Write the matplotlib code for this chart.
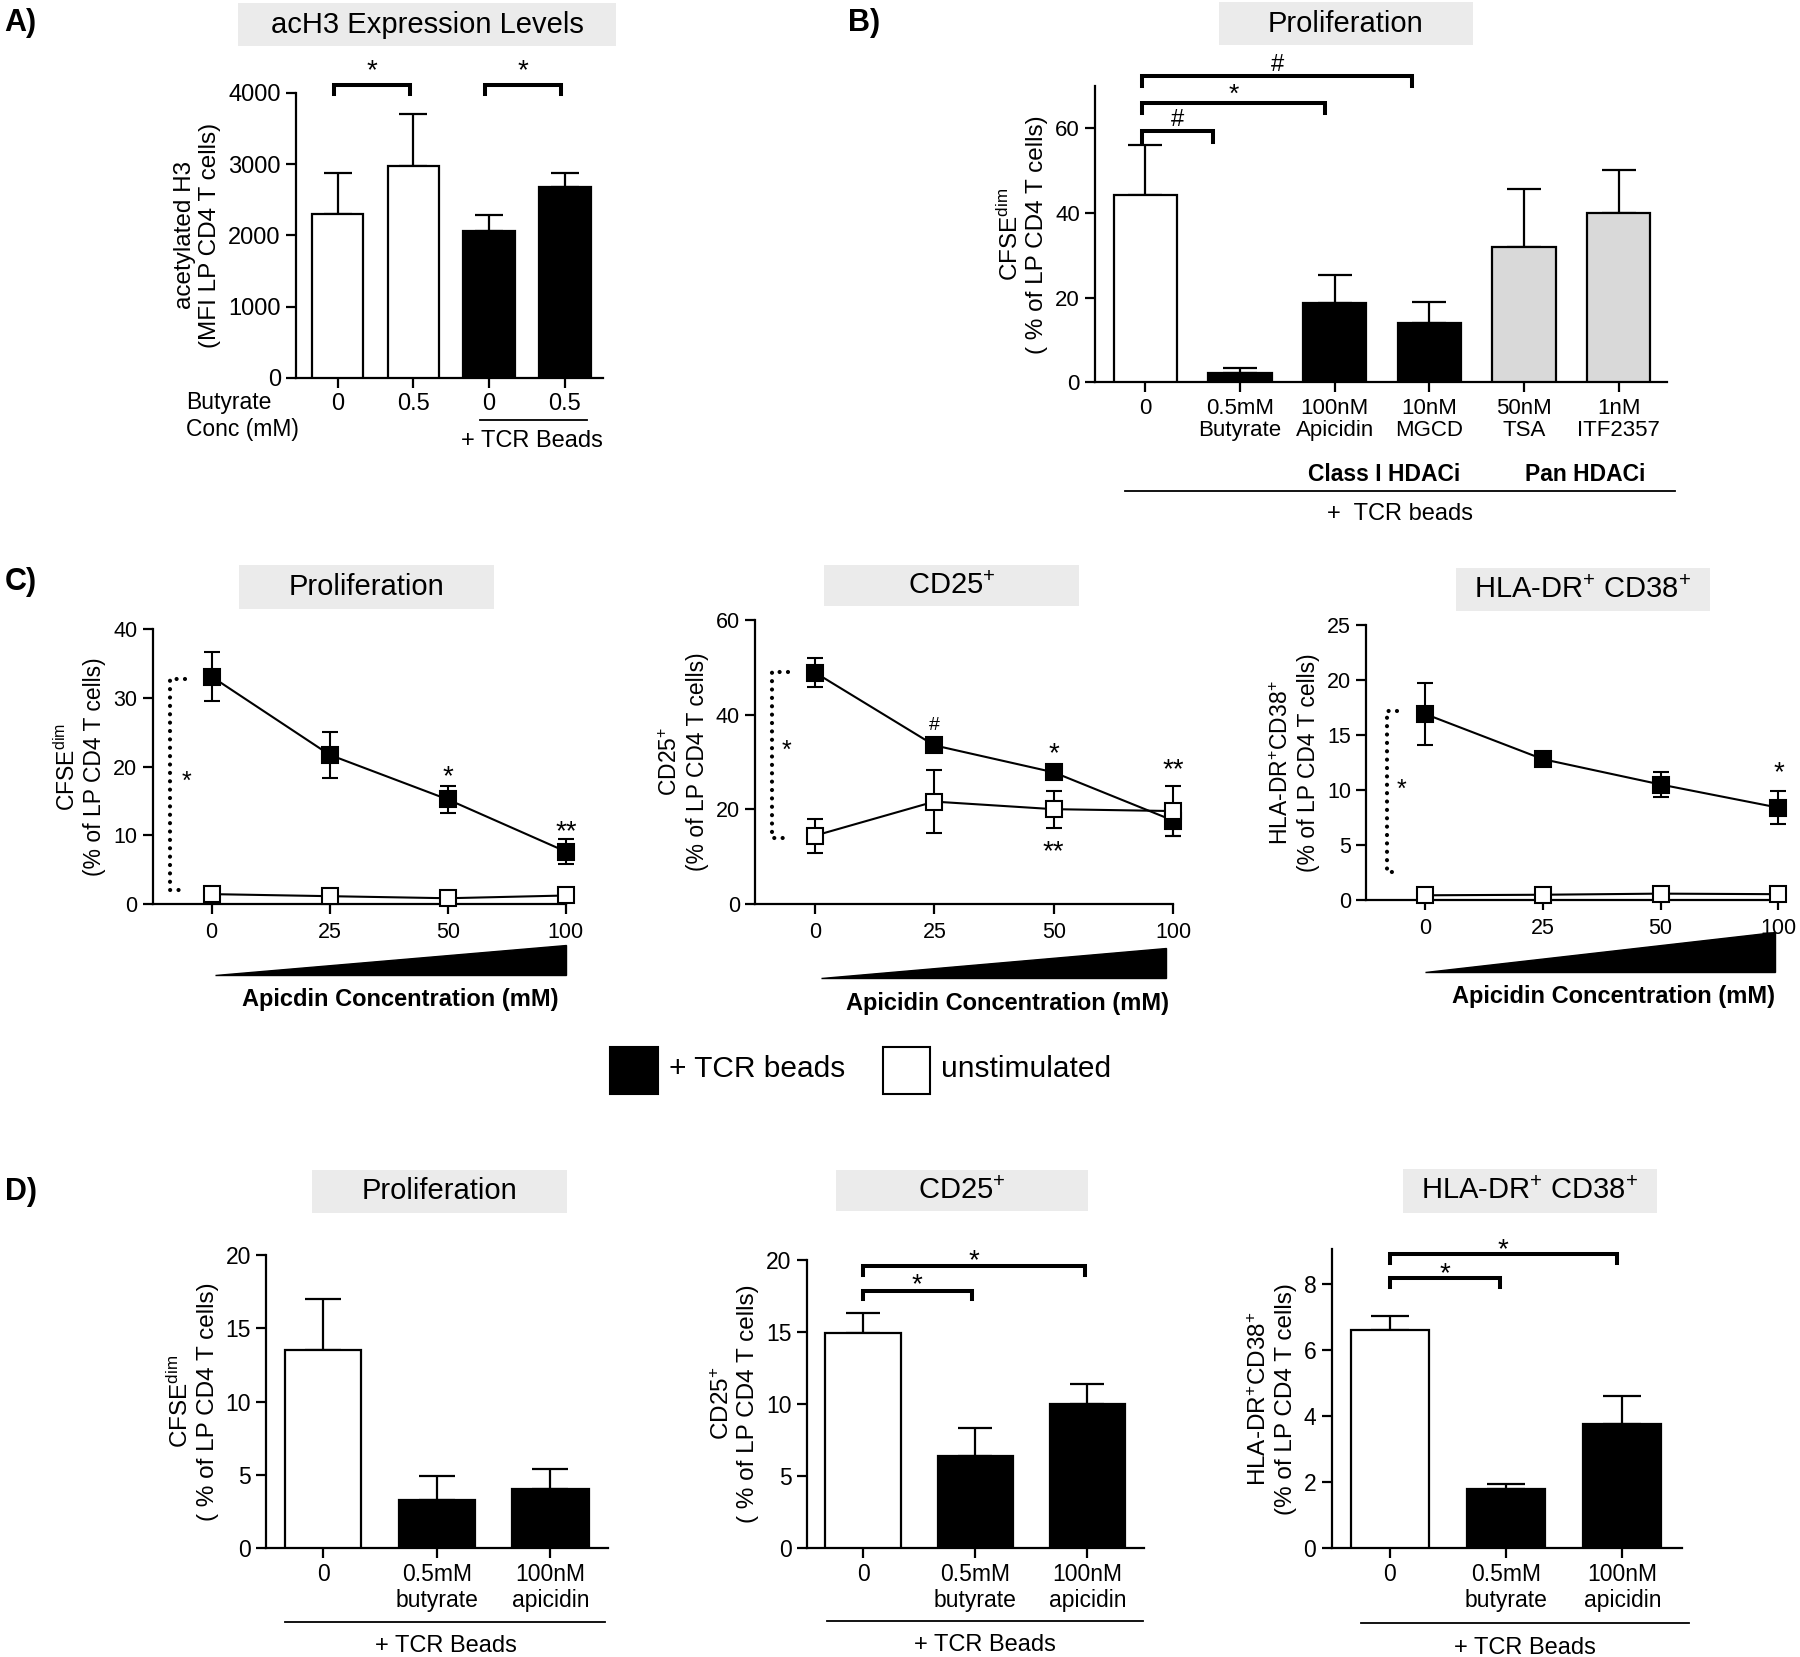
import numpy as np
import matplotlib
matplotlib.use("Agg")
import matplotlib.pyplot as plt
import matplotlib.transforms as mtransforms
from matplotlib.patches import Rectangle, Polygon

plt.rcParams['font.family'] = ['Liberation Sans', 'DejaVu Sans']
plt.rcParams['mathtext.fontset'] = 'custom'
plt.rcParams['mathtext.rm'] = 'Liberation Sans'
plt.rcParams['mathtext.it'] = 'Liberation Sans:italic'
plt.rcParams['mathtext.bf'] = 'Liberation Sans:bold'
plt.rcParams['axes.linewidth'] = 1.5

# ---------------- data ----------------
# Panel A
a_labels = ['0', '0.5', '0', '0.5']
a_means = [2300, 2980, 2060, 2680]
a_errs = [580, 730, 220, 190]
a_colors = ['white', 'white', 'black', 'black']

# Panel B
b_labels = ['0', '0.5mM\nButyrate', '100nM\nApicidin', '10nM\nMGCD', '50nM\nTSA', '1nM\nITF2357']
b_means = [44.3, 2.2, 18.8, 14.0, 32.0, 40.0]
b_errs = [11.8, 1.2, 6.7, 5.0, 13.8, 10.1]
b_colors = ['white', 'black', 'black', 'black', '#d9d9d9', '#d9d9d9']

# Panel C (Apicidin dose response)
c_conc = ['0', '25', '50', '100']
c1_tcr = [33.1, 21.7, 15.2, 7.6]
c1_tcr_err = [3.6, 3.3, 2.0, 1.8]
c1_uns = [1.4, 1.1, 0.8, 1.2]
c1_uns_err = [0, 0, 0, 0]
c2_tcr = [48.9, 33.5, 27.8, 17.6]
c2_tcr_err = [3.0, 0.6, 0.6, 3.2]
c2_uns = [14.4, 21.6, 20.0, 19.6]
c2_uns_err = [3.6, 6.6, 3.9, 5.2]
c3_tcr = [16.9, 12.8, 10.5, 8.4]
c3_tcr_err = [2.8, 0.4, 1.1, 1.5]
c3_uns = [0.45, 0.5, 0.6, 0.55]
c3_uns_err = [0, 0, 0, 0]

# Panel D
d_labels = ['0', '0.5mM\nbutyrate', '100nM\napicidin']
d_colors = ['white', 'black', 'black']
d1_means = [13.5, 3.3, 4.0]
d1_errs = [3.5, 1.6, 1.4]
d2_means = [14.9, 6.4, 10.0]
d2_errs = [1.4, 1.9, 1.4]
d3_means = [6.6, 1.8, 3.77]
d3_errs = [0.42, 0.15, 0.85]

# ---------------- figure ----------------
fig = plt.figure(figsize=(18, 16.57), dpi=100)
W, H = 1568.0, 1443.0


def fig_box(x0, y0, x1, y1, **kw):
    r = Rectangle((x0 / W, 1 - y1 / H), (x1 - x0) / W, (y1 - y0) / H,
                  transform=fig.transFigure, **kw)
    fig.add_artist(r)


def title_box(x0, y0, x1, y1, text, fs=21):
    fig_box(x0, y0, x1, y1, facecolor='#ebebeb', edgecolor='none')
    fig.text((x0 + x1) / 2 / W, 1 - (y0 + y1) / 2 / H, text, ha='center',
             va='center', fontsize=fs)


def style(ax, fs):
    ax.spines['top'].set_visible(False)
    ax.spines['right'].set_visible(False)
    ax.spines['left'].set_linewidth(1.6)
    ax.spines['bottom'].set_linewidth(1.6)
    ax.tick_params(axis='both', direction='out', length=7, width=1.6,
                   labelsize=fs, pad=4)


def bars(ax, means, errs, colors, width, capsize):
    x = np.arange(len(means))
    ax.errorbar(x, means, yerr=[np.zeros(len(errs)), errs], fmt='none',
                ecolor='black', elinewidth=1.6, capsize=capsize, capthick=1.6,
                zorder=2)
    ax.bar(x, means, width=width, color=colors, edgecolor='black',
           linewidth=1.6, zorder=3)
    return x


def bracket(ax, x0, x1, y, drop, label, ly, fs=20):
    ax.plot([x0, x0, x1, x1], [y - drop, y, y, y - drop], color='black',
            lw=2.9, clip_on=False, solid_joinstyle='miter', zorder=5)
    ax.text((x0 + x1) / 2, ly, label, ha='center', va='center', fontsize=fs)


def blended(ax):
    return mtransforms.blended_transform_factory(ax.transData, ax.transAxes)


# ---------- Panel A ----------
axA = fig.add_axes([0.1645, 0.772, 0.1703, 0.1719])
style(axA, 17)
xa = bars(axA, a_means, a_errs, a_colors, 0.68, 10)
axA.set_xlim(-0.55, 3.5)
axA.set_ylim(0, 4000)
axA.set_yticks([0, 1000, 2000, 3000, 4000])
axA.set_xticks(xa)
axA.set_xticklabels(a_labels)
axA.set_ylabel('acetylated H3\n(MFI LP CD4 T cells)', fontsize=17.5, labelpad=5)
bracket(axA, -0.05, 0.95, 4110, 130, '*', 4300)
bracket(axA, 1.95, 2.95, 4110, 130, '*', 4300)
tA = blended(axA)
axA.text(-0.36, -0.088, 'Butyrate', transform=axA.transAxes, ha='left', va='center', fontsize=16.5)
axA.text(-0.36, -0.18, 'Conc (mM)', transform=axA.transAxes, ha='left', va='center', fontsize=16.5)
axA.plot([1.88, 3.29], [-0.149, -0.149], transform=tA, color='black', lw=1.3, clip_on=False)
axA.text(2.57, -0.222, '+ TCR Beads', transform=tA, ha='center', va='center', fontsize=17)
title_box(207, 3, 537, 40, 'acH3 Expression Levels')

# ---------- Panel B ----------
axB = fig.add_axes([0.6084, 0.7692, 0.3176, 0.1788])
style(axB, 16)
xb = bars(axB, b_means, b_errs, b_colors, 0.67, 12)
axB.set_xlim(-0.53, 5.51)
axB.set_ylim(0, 70)
axB.set_yticks([0, 20, 40, 60])
axB.set_xticks(xb)
axB.set_xticklabels(b_labels, linespacing=1.1)
axB.set_ylabel('CFSE$^{\\mathrm{dim}}$\n( % of LP CD4 T cells)', fontsize=17.5, labelpad=5)
bracket(axB, -0.03, 0.72, 59.5, 2.6, '#', 62.0, fs=17)
bracket(axB, -0.03, 1.90, 66.0, 2.4, '*', 68.0, fs=19)
bracket(axB, -0.03, 2.82, 72.5, 2.4, '#', 75.0, fs=17)
tB = blended(axB)
axB.text(2.52, -0.31, 'Class I HDACi', transform=tB, ha='center', va='center', fontsize=16.5, fontweight='bold')
axB.text(4.65, -0.31, 'Pan HDACi', transform=tB, ha='center', va='center', fontsize=16.5, fontweight='bold')
axB.plot([-0.21, 5.6], [-0.366, -0.366], transform=tB, color='black', lw=1.3, clip_on=False)
axB.text(2.69, -0.445, '+  TCR beads', transform=tB, ha='center', va='center', fontsize=17)
title_box(1062, 2, 1283, 39, 'Proliferation')


# ---------- Panel C ----------
def line_panel(ax, tcr, tcr_err, uns, uns_err, ylim, yticks, ylabel):
    style(ax, 15.5)
    x = np.arange(len(c_conc))
    for y, e, mfc, z in [(tcr, tcr_err, 'black', 4), (uns, uns_err, 'white', 6)]:
        if np.any(np.array(e) > 0):
            cont = ax.errorbar(x, y, yerr=e, fmt='-s', color='black', mfc=mfc,
                               mec='black', mew=1.5, ms=11.5, lw=1.5,
                               elinewidth=1.5, capsize=5.5, capthick=1.5,
                               zorder=z)
            for art in cont.get_children():
                art.set_clip_on(False)
        else:
            ax.plot(x, y, '-s', color='black', mfc=mfc, mec='black', mew=1.5,
                    ms=11.5, lw=1.5, zorder=z, clip_on=False)
    ax.set_xlim(-0.5, 3)
    ax.set_ylim(*ylim)
    ax.set_yticks(yticks)
    ax.set_xticks(x)
    ax.set_xticklabels(c_conc)
    ax.tick_params(axis='x', pad=6)
    ax.set_ylabel(ylabel, fontsize=16.5, labelpad=5)
    return x


def dotted(ax, xv, xs, y0, y1, ys, star_x):
    ax.plot([xs, xv, xv, xs], [y1, y1, y0, y0], color='black', lw=3.0,
            ls=(0, (0.01, 2.0)), dash_capstyle='round', clip_on=False)
    ax.text(star_x, ys, '*', ha='center', va='center', fontsize=18)


def wedge(ax, x0, x1, ybot, ytop, label, lx, ly):
    t = blended(ax)
    ax.add_patch(Polygon([[x0, ybot], [x1, ybot], [x1, ytop]], closed=True,
                         transform=t, facecolor='black', edgecolor='black',
                         clip_on=False))
    ax.text(lx, ly, label, transform=t, ha='center', va='center',
            fontsize=17, fontweight='bold')


axC1 = fig.add_axes([0.0848, 0.4546, 0.2296, 0.1656])
line_panel(axC1, c1_tcr, c1_tcr_err, c1_uns, c1_uns_err, (0, 40), [0, 10, 20, 30, 40],
           'CFSE$^{\\mathrm{dim}}$\n(% of LP CD4 T cells)')
dotted(axC1, -0.35, -0.23, 2.0, 32.8, 17.8, -0.21)
axC1.text(2, 18.5, '*', ha='center', va='center', fontsize=20)
axC1.text(3, 10.4, '**', ha='center', va='center', fontsize=20)
wedge(axC1, 0.03, 3.0, -0.26, -0.149, 'Apicdin Concentration (mM)', 1.6, -0.35)
title_box(208, 492, 430, 530, 'Proliferation')

axC2 = fig.add_axes([0.4196, 0.4546, 0.2321, 0.1712])
line_panel(axC2, c2_tcr, c2_tcr_err, c2_uns, c2_uns_err, (0, 60), [0, 20, 40, 60],
           'CD25$^{+}$\n(% of LP CD4 T cells)')
dotted(axC2, -0.36, -0.23, 14.0, 49.1, 32.3, -0.24)
axC2.text(1, 37.6, '#', ha='center', va='center', fontsize=14)
axC2.text(2, 31.6, '*', ha='center', va='center', fontsize=20)
axC2.text(3, 28.3, '**', ha='center', va='center', fontsize=20)
axC2.text(2, 11.0, '**', ha='center', va='center', fontsize=20)
wedge(axC2, 0.05, 2.94, -0.263, -0.155, 'Apicidin Concentration (mM)', 1.61, -0.351)
title_box(718, 492, 940, 528, 'CD25$^{+}$')

axC3 = fig.add_axes([0.759, 0.4567, 0.229, 0.1663])
line_panel(axC3, c3_tcr, c3_tcr_err, c3_uns, c3_uns_err, (0, 25), [0, 5, 10, 15, 20, 25],
           'HLA-DR$^{+}$CD38$^{+}$\n(% of LP CD4 T cells)')
dotted(axC3, -0.32, -0.235, 2.6, 17.2, 10.0, -0.2)
axC3.text(3, 11.5, '*', ha='center', va='center', fontsize=20)
wedge(axC3, 0.0, 2.97, -0.26, -0.115, 'Apicidin Concentration (mM)', 1.6, -0.35)
title_box(1268, 495, 1490, 532, 'HLA-DR$^{+}$ CD38$^{+}$')

# legend
fig_box(531, 912, 573, 953, facecolor='black', edgecolor='black', lw=1.5)
fig_box(769, 912, 810, 953, facecolor='white', edgecolor='black', lw=1.5)
fig.text(583 / W, 1 - 931 / H, '+ TCR beads', ha='left', va='center', fontsize=21.5)
fig.text(820 / W, 1 - 931 / H, 'unstimulated', ha='left', va='center', fontsize=21.5)


# ---------- Panel D ----------
def d_panel(rect_, means, errs, ylim, yticks, ylabel, capsize, line, txt):
    ax = fig.add_axes(rect_)
    style(ax, 16.5)
    x = bars(ax, means, errs, d_colors, 0.67, capsize)
    ax.set_xlim(-0.5, 2.51)
    ax.set_ylim(*ylim)
    ax.set_yticks(yticks)
    ax.set_xticks(x)
    ax.set_xticklabels(d_labels, linespacing=1.15)
    ax.set_ylabel(ylabel, fontsize=17.5, labelpad=5)
    t = blended(ax)
    ax.plot([line[0], line[1]], [line[2], line[2]], transform=t, color='black', lw=1.3, clip_on=False)
    ax.text(txt[0], txt[1], '+ TCR Beads', transform=t, ha='center', va='center', fontsize=17)
    return ax


axD1 = d_panel([0.148, 0.0658, 0.190, 0.1767], d1_means, d1_errs, (0, 20), [0, 5, 10, 15, 20],
               'CFSE$^{\\mathrm{dim}}$\n( % of LP CD4 T cells)', 13, (-0.34, 2.48, -0.252), (1.08, -0.335))
title_box(272, 1019, 494, 1056, 'Proliferation')

axD2 = d_panel([0.4483, 0.0658, 0.1875, 0.174], d2_means, d2_errs, (0, 20), [0, 5, 10, 15, 20],
               'CD25$^{+}$\n( % of LP CD4 T cells)', 12, (-0.32, 2.5, -0.255), (1.09, -0.337))
bracket(axD2, 0.0, 0.97, 17.85, 0.6, '*', 18.2)
bracket(axD2, 0.0, 1.98, 19.58, 0.65, '*', 19.9)
title_box(728, 1019, 948, 1055, 'CD25$^{+}$')

axD3 = d_panel([0.7398, 0.0658, 0.1945, 0.1802], d3_means, d3_errs, (0, 9.05), [0, 2, 4, 6, 8],
               'HLA-DR$^{+}$CD38$^{+}$\n(% of LP CD4 T cells)', 14, (-0.25, 2.57, -0.252), (1.16, -0.334))
bracket(axD3, 0.0, 0.95, 8.18, 0.28, '*', 8.3)
bracket(axD3, 0.0, 1.95, 8.91, 0.27, '*', 9.03)
title_box(1222, 1018, 1443, 1056, 'HLA-DR$^{+}$ CD38$^{+}$')

# panel letters
for lx, ly, lt in [(4, 20, 'A)'), (739, 20, 'B)'), (4, 507, 'C)'), (4, 1038, 'D)')]:
    fig.text(lx / W, 1 - ly / H, lt, ha='left', va='center', fontsize=22, fontweight='bold')

fig.savefig('out.png', dpi=100, facecolor='white')
